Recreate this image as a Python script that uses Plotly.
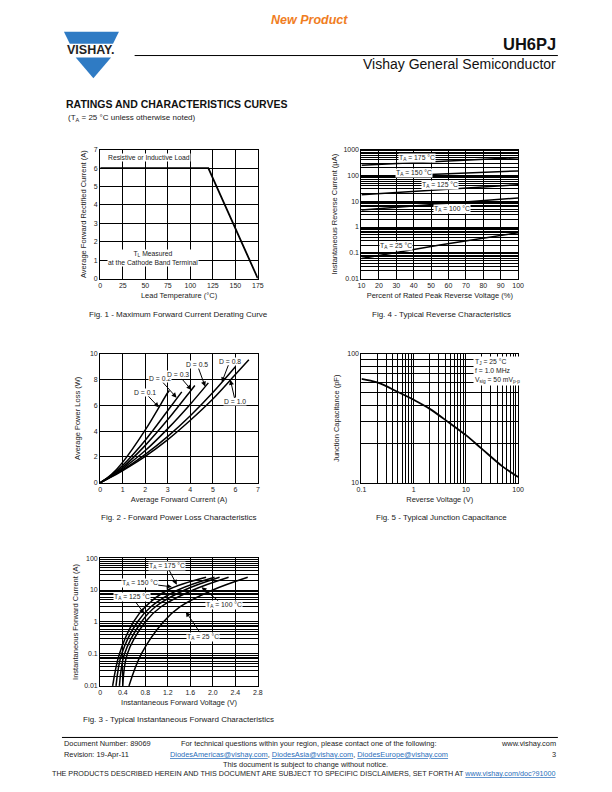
import math
import plotly.graph_objects as go

# Fig. 1 - derating curve
f1_temp = [0, 120, 175]
f1_current = [6, 6, 0]

# Fig. 2 - forward power loss, one list per duty cycle
f2_duty = ['0.1', '0.2', '0.3', '0.5', '0.8', '1.0']
f2_amps = {
    '0.1': [0, 0.5, 1, 2, 3, 3.07],
    '0.2': [0, 0.5, 1, 2, 3, 3.62],
    '0.3': [0, 0.5, 1, 2, 3, 4, 4.2],
    '0.5': [0, 0.5, 1, 2, 3, 4, 4.8],
    '0.8': [0, 0.5, 1, 2, 3, 4, 5, 6.0],
    '1.0': [0, 0.5, 1, 2, 3, 4, 5, 6, 6.6],
}
f2_watts = {
    '0.1': [0, 0.65, 1.6, 4.1, 7.0, 7.16],
    '0.2': [0, 0.6, 1.35, 3.3, 5.6, 7.05],
    '0.3': [0, 0.55, 1.2, 2.9, 4.9, 7.1, 7.55],
    '0.5': [0, 0.5, 1.1, 2.5, 4.2, 6.1, 7.75],
    '0.8': [0, 0.5, 1.0, 2.2, 3.6, 5.2, 7.0, 9.0],
    '1.0': [0, 0.45, 0.95, 2.05, 3.35, 4.85, 6.5, 8.4, 9.55],
}

# Fig. 3 - forward characteristics (V, A)
f3_temps = ['175', '150', '125', '100', '25']
f3_amps = [0.01, 0.1, 1, 3, 10, 25]
f3_volts = {
    '175': [0.22, 0.34, 0.59, 0.80, 1.20, 1.88],
    '150': [0.28, 0.38, 0.66, 0.90, 1.38, 2.03],
    '125': [0.34, 0.43, 0.73, 0.98, 1.50, 2.12],
    '100': [0.40, 0.48, 0.80, 1.08, 1.65, 2.28],
    '25':  [0.51, 0.73, 1.12, 1.42, 2.00, 2.62],
}
f3_ticks = [0, 0.4, 0.8, 1.2, 1.6, 2.0, 2.4, 2.8]
f3_ticktext = ['0', '0.4', '0.8', '1.2', '1.6', '2.0', '2.4', '2.8']

# Fig. 4 - reverse characteristics (% of VRRM, uA)
f4_pct = [10, 55, 100]
f4_temps = ['175', '150', '125', '100', '25']
f4_ua = {
    '175': [250, 350, 490],
    '150': [85, 115, 150],
    '125': [18, 28, 44],
    '100': [4.6, 8, 13.5],
    '25':  [0.06, 0.2, 0.6],
}

# Fig. 5 - junction capacitance
f5_volts = [0.1, 0.2, 0.5, 1, 2, 5, 10, 20, 50, 100]
f5_pf = [64, 60, 50.6, 44, 37.6, 28.8, 23.4, 18.4, 13.4, 11.1]

FONT = 'Liberation Sans, Arial, sans-serif'
BLUE = '#2F7BC4'


def px(x):
    return x / 612


def py(y):
    return 1 - y / 792


def decades(lo, hi):
    return [10 ** e for e in range(lo, hi + 1)]


def minors(lo, hi):
    return [m * 10 ** e for e in range(lo, hi) for m in range(2, 10)]


def dec_text(vals):
    return ['%g' % v for v in vals]


fig = go.Figure()
line = dict(color='black', width=1.8)

# fig 1
fig.add_trace(go.Scatter(x=f1_temp, y=f1_current, mode='lines', line=line,
                         xaxis='x', yaxis='y'))
# fig 2
for d in f2_duty:
    fig.add_trace(go.Scatter(x=f2_amps[d], y=f2_watts[d], mode='lines',
                             line=dict(color='black', width=1.5), line_shape='spline',
                             xaxis='x2', yaxis='y2'))
# fig 3
for t in f3_temps:
    fig.add_trace(go.Scatter(x=f3_volts[t], y=f3_amps, mode='lines',
                             line=dict(color='black', width=1.5), line_shape='spline',
                             xaxis='x3', yaxis='y3'))
# fig 4
for t in f4_temps:
    fig.add_trace(go.Scatter(x=f4_pct, y=f4_ua[t], mode='lines',
                             line=dict(color='black', width=1.5),
                             xaxis='x4', yaxis='y4'))
# fig 5
fig.add_trace(go.Scatter(x=f5_volts, y=f5_pf, mode='lines', line=line,
                         line_shape='spline', xaxis='x5', yaxis='y5'))

tickfont = dict(family=FONT, size=7, color='#222')
titlefont = dict(family=FONT, size=7.5, color='#222')
common = dict(showline=True, linecolor='black', linewidth=1.2, mirror=True,
              showgrid=True, gridcolor='black', gridwidth=1, zeroline=False,
              ticks='', tickfont=tickfont, fixedrange=True)


def log_axis(lo, hi):
    vals = decades(lo, hi)
    return dict(type='log', range=[lo, hi], tickmode='array', tickvals=vals,
                ticktext=dec_text(vals),
                minor=dict(tickmode='array', tickvals=minors(lo, hi), showgrid=True,
                           gridcolor='black', gridwidth=1, ticks=''))


left = [px(97), px(257.5)]
right = [px(363), px(522.5)]
row1 = [py(277), py(147)]
row2 = [py(483), py(353)]
row3 = [py(688), py(559)]

fig.update_layout(
    width=612, height=792, margin=dict(l=0, r=0, t=0, b=0),
    paper_bgcolor='white', plot_bgcolor='white', showlegend=False,
    font=dict(family=FONT, color='#222'),
    xaxis=dict(common, domain=left, anchor='y', range=[0, 175],
               tickvals=[0, 25, 50, 75, 100, 125, 150, 175],
               title=dict(text='Lead Temperature (°C)', font=titlefont, standoff=4)),
    yaxis=dict(common, domain=row1, anchor='x', range=[0, 7], dtick=1,
               title=dict(text='Average Forward Rectified Current (A)', font=titlefont, standoff=6)),
    xaxis2=dict(common, domain=left, anchor='y2', range=[0, 7], dtick=1,
                title=dict(text='Average Forward Current (A)', font=titlefont, standoff=4)),
    yaxis2=dict(common, domain=row2, anchor='x2', range=[0, 10], dtick=2,
                title=dict(text='Average Power Loss (W)', font=titlefont, standoff=8)),
    xaxis3=dict(common, domain=left, anchor='y3', range=[0, 2.8],
                tickvals=f3_ticks, ticktext=f3_ticktext,
                title=dict(text='Instantaneous Forward Voltage (V)', font=titlefont, standoff=4)),
    yaxis3=dict(common, **log_axis(-2, 2), domain=row3, anchor='x3',
                title=dict(text='Instantaneous Forward Current (A)', font=titlefont, standoff=4)),
    xaxis4=dict(common, domain=right, anchor='y4', range=[10, 100], dtick=10,
                title=dict(text='Percent of Rated Peak Reverse Voltage (%)', font=titlefont, standoff=4)),
    yaxis4=dict(common, **log_axis(-2, 3), domain=row1, anchor='x4',
                title=dict(text='Instantaneous Reverse Current (µA)', font=titlefont, standoff=4)),
    xaxis5=dict(common, **log_axis(-1, 2), domain=right, anchor='y5',
                title=dict(text='Reverse Voltage (V)', font=titlefont, standoff=4)),
    yaxis5=dict(common, **log_axis(1, 2), domain=row2, anchor='x5',
                title=dict(text='Junction Capacitance (pF)', font=titlefont, standoff=6)),
)

ann = []


def txt(x, y, s, size=7, xa='left', ya='middle', color='#222', **kw):
    ann.append(dict(x=px(x), y=py(y), xref='paper', yref='paper', text=s,
                    showarrow=False, xanchor=xa, yanchor=ya,
                    font=dict(family=FONT, size=size, color=color), **kw))


def inplot(xr, yr, x, y, s, ax=None, ay=None, xa='center', logy=False):
    if logy:
        y = math.log10(y)
    d = dict(x=x, y=y, xref=xr, yref=yr, text=s, bgcolor='white',
             font=dict(family=FONT, size=6.8, color='#222'), borderpad=0,
             xanchor=xa)
    if ax is None:
        d['showarrow'] = False
    else:
        d.update(showarrow=True, ax=ax, ay=ay, arrowhead=2, arrowsize=1,
                 arrowwidth=1, arrowcolor='black', standoff=0, startstandoff=0)
    ann.append(d)


# page header
txt(310, 16, '<b><i>New Product</i></b>', size=12.5, xa='center', color='#F07D22')
txt(563, 40, '<b>UH6PJ</b>', size=16.5, xa='right', color='#111')
txt(563, 61, 'Vishay General Semiconductor', size=14, xa='right', color='#111')
txt(87, 46, '<b>VISHAY.</b>', size=12.5, xa='center', color='#222')
txt(60, 101, '<b>RATINGS AND CHARACTERISTICS CURVES</b>', size=10.5, color='#111')
txt(62, 115, '(T<sub>A</sub> = 25 °C unless otherwise noted)', size=8)

# captions
cap = 8
txt(177, 313, 'Fig. 1 - Maximum Forward Current Derating Curve', size=cap, xa='center')
txt(444, 313, 'Fig. 4 - Typical Reverse Characteristics', size=cap, xa='center')
txt(177, 518, 'Fig. 2 - Forward Power Loss Characteristics', size=cap, xa='center')
txt(444, 518, 'Fig. 5 - Typical Junction Capacitance', size=cap, xa='center')
txt(177, 722, 'Fig. 3 - Typical Instantaneous Forward Characteristics', size=cap, xa='center')

# footer
fs = 7.4
txt(58, 746, 'Document Number: 89069', size=fs)
txt(58, 757, 'Revision: 19-Apr-11', size=fs)
txt(310, 746, 'For technical questions within your region, please contact one of the following:',
    size=fs, xa='center')
link = "<span style='color:#2A6EBB'><u>%s</u></span>"
txt(310, 757, (link % 'DiodesAmericas@vishay.com') + ', ' + (link % 'DiodesAsia@vishay.com')
    + ', ' + (link % 'DiodesEurope@vishay.com'), size=fs, xa='center')
txt(563, 746, 'www.vishay.com', size=fs, xa='right')
txt(563, 757, '3', size=fs, xa='right')
txt(306, 767, 'This document is subject to change without notice.', size=fs, xa='center')
txt(563, 776, 'THE PRODUCTS DESCRIBED HEREIN AND THIS DOCUMENT ARE SUBJECT TO SPECIFIC DISCLAIMERS, SET FORTH AT '
    + (link % 'www.vishay.com/doc?91000'), size=7.2, xa='right')

# fig 1 labels
inplot('x', 'y', 8, 6.55, 'Resistive or Inductive Load', xa='left')
inplot('x', 'y', 8, 1.1, 'T<sub>L</sub> Measured<br>at the Cathode Band Terminal', xa='left')

# fig 2 labels
f2_lab = [(2.6, 5.85, -14, -15), (3.39, 6.6, -17, -19), (4.05, 7.2, -13, -15),
          (4.66, 7.46, -8, -22), (5.4, 7.8, 8, -21), (5.78, 7.98, 5, 22)]
for d, (x, y, ax, ay) in zip(f2_duty, f2_lab):
    inplot('x2', 'y2', x, y, 'D = ' + d, ax, ay)

# fig 3 labels
inplot('x3', 'y3', 1.36, 14.6, 'T<sub>A</sub> = 175 °C', -10, -19, logy=True)
inplot('x3', 'y3', 1.27, 12.6, 'T<sub>A</sub> = 150 °C', -32, -4, logy=True)
inplot('x3', 'y3', 0.78, 1.85, 'T<sub>A</sub> = 125 °C', -12, -16, logy=True)
inplot('x3', 'y3', 1.8, 12.3, 'T<sub>A</sub> = 100 °C', 22, 18, logy=True)
inplot('x3', 'y3', 1.52, 2.1, 'T<sub>A</sub> = 25 °C', 17, 25, logy=True)

# fig 4 labels
inplot('x4', 'y4', 42, 490, 'T<sub>A</sub> = 175 °C', logy=True)
inplot('x4', 'y4', 40, 120, 'T<sub>A</sub> = 150 °C', logy=True)
inplot('x4', 'y4', 55, 42, 'T<sub>A</sub> = 125 °C', logy=True)
inplot('x4', 'y4', 62, 5, 'T<sub>A</sub> = 100 °C', logy=True)
inplot('x4', 'y4', 30, 0.18, 'T<sub>A</sub> = 25 °C', logy=True)

# fig 5 label
ann.append(dict(x=px(477), y=py(355), xref='paper', yref='paper', showarrow=False,
                xanchor='left', yanchor='top', align='left', bgcolor='white',
                text='T<sub>J</sub> = 25 °C<br>f = 1.0 MHz<br>V<sub>sig</sub> = 50 mV<sub>p-p</sub>',
                font=dict(family=FONT, size=6.8, color='#222')))

fig.update_layout(annotations=ann)


# logo triangles and header / footer rules
def path(points):
    s = 'M ' + ' L '.join('%f %f' % (px(a), py(b)) for a, b in points) + ' Z'
    return s


shapes = [
    dict(type='path', xref='paper', yref='paper', path=path([(60, 28), (116, 28), (110, 40), (66, 40)]),
         fillcolor=BLUE, line=dict(width=0)),
    dict(type='path', xref='paper', yref='paper', path=path([(72, 54), (108, 54), (90, 75)]),
         fillcolor=BLUE, line=dict(width=0)),
    dict(type='line', xref='paper', yref='paper', x0=px(132), x1=px(563), y0=py(52), y1=py(52),
         line=dict(color='black', width=1)),
    dict(type='line', xref='paper', yref='paper', x0=px(58), x1=px(563), y0=py(740), y1=py(740),
         line=dict(color='black', width=1)),
]
fig.update_layout(shapes=shapes)

fig.write_html('out.html', config={'displayModeBar': False},
               post_script="document.body.style.margin='0';")
